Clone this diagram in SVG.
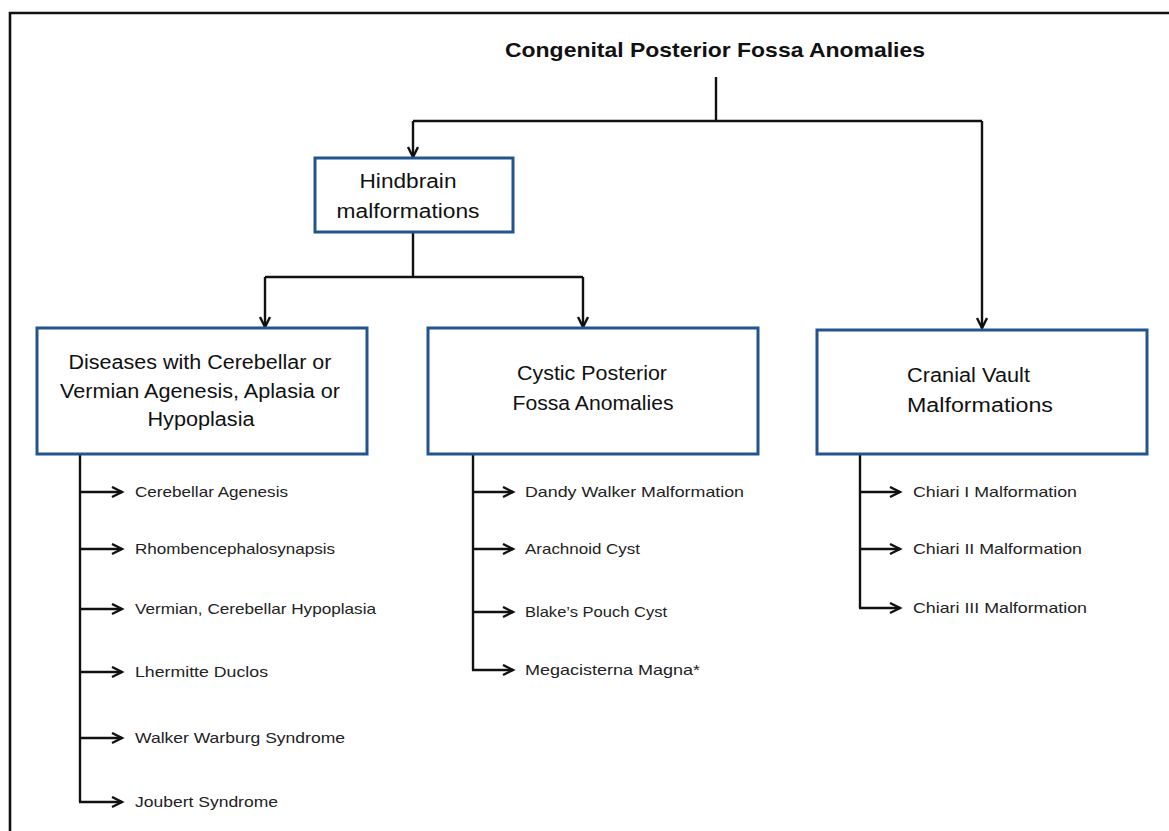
<svg xmlns="http://www.w3.org/2000/svg" width="1169" height="831" viewBox="0 0 1169 831">
<style>
.box{fill:#fff;stroke:#23548f;stroke-width:3}
.bt{font-family:"Liberation Sans",Arial,sans-serif;font-size:20px;fill:#111;text-anchor:middle}
.li{font-family:"Liberation Sans",Arial,sans-serif;font-size:15px;fill:#222}
.ln{fill:none;stroke:#111;stroke-width:2.4}
.ttl{font-family:"Liberation Sans",Arial,sans-serif;font-size:21px;font-weight:bold;fill:#111}
</style>
<defs>
<marker id="ah" markerUnits="userSpaceOnUse" markerWidth="14" markerHeight="14" refX="11" refY="6" orient="auto">
<path d="M1,1 L11,6 L1,11" fill="none" stroke="#111" stroke-width="2.4"/>
</marker>
</defs>
<rect x="0" y="0" width="1169" height="831" fill="#fff"/>
<path d="M10,831 V13 H1169" fill="none" stroke="#111" stroke-width="2.6"/>
<g id="title"><text class="ttl" x="505" y="57" textLength="420" lengthAdjust="spacingAndGlyphs">Congenital Posterior Fossa Anomalies</text></g>
<g id="connectors">
<path class="ln" d="M716,77 V121"/>
<path class="ln" d="M413,121 H982"/>
<path class="ln" d="M413,121 V157" marker-end="url(#ah)"/>
<path class="ln" d="M982,121 V328" marker-end="url(#ah)"/>
<path class="ln" d="M413,232 V277"/>
<path class="ln" d="M265,277 H583"/>
<path class="ln" d="M265,277 V327" marker-end="url(#ah)"/>
<path class="ln" d="M583,277 V327" marker-end="url(#ah)"/>
<path class="ln" d="M80,454 V802"/>
<path class="ln" d="M79,492 H122" marker-end="url(#ah)"/>
<path class="ln" d="M79,549 H122" marker-end="url(#ah)"/>
<path class="ln" d="M79,609 H122" marker-end="url(#ah)"/>
<path class="ln" d="M79,672 H122" marker-end="url(#ah)"/>
<path class="ln" d="M79,738 H122" marker-end="url(#ah)"/>
<path class="ln" d="M79,802 H122" marker-end="url(#ah)"/>
<path class="ln" d="M473,454 V670"/>
<path class="ln" d="M472,492 H513" marker-end="url(#ah)"/>
<path class="ln" d="M472,549 H513" marker-end="url(#ah)"/>
<path class="ln" d="M472,612 H513" marker-end="url(#ah)"/>
<path class="ln" d="M472,670 H513" marker-end="url(#ah)"/>
<path class="ln" d="M860,454 V608"/>
<path class="ln" d="M859,492 H900" marker-end="url(#ah)"/>
<path class="ln" d="M859,549 H900" marker-end="url(#ah)"/>
<path class="ln" d="M859,608 H900" marker-end="url(#ah)"/>
</g>
<g id="hindbrain">
<rect class="box" x="315" y="158" width="198" height="74"/>
<text class="bt" x="408" y="188" textLength="97" lengthAdjust="spacingAndGlyphs">Hindbrain</text>
<text class="bt" x="408" y="218" textLength="143" lengthAdjust="spacingAndGlyphs">malformations</text>
</g>
<g id="diseases">
<rect class="box" x="37" y="328" width="330" height="126"/>
<text class="bt" x="200" y="369" textLength="263" lengthAdjust="spacingAndGlyphs">Diseases with Cerebellar or</text>
<text class="bt" x="200" y="398" textLength="280" lengthAdjust="spacingAndGlyphs">Vermian Agenesis, Aplasia or</text>
<text class="bt" x="201" y="426" textLength="107" lengthAdjust="spacingAndGlyphs">Hypoplasia</text>
</g>
<g id="cystic">
<rect class="box" x="428" y="328" width="330" height="126"/>
<text class="bt" x="592" y="380" textLength="150" lengthAdjust="spacingAndGlyphs">Cystic Posterior</text>
<text class="bt" x="593" y="410" textLength="161" lengthAdjust="spacingAndGlyphs">Fossa Anomalies</text>
</g>
<g id="cranial">
<rect class="box" x="817" y="330" width="330" height="124"/>
<text class="bt" x="907" y="382" style="text-anchor:start" textLength="123" lengthAdjust="spacingAndGlyphs">Cranial Vault</text>
<text class="bt" x="907" y="412" style="text-anchor:start" textLength="146" lengthAdjust="spacingAndGlyphs">Malformations</text>
</g>
<g id="list-diseases">
<text class="li" x="135" y="497" textLength="153" lengthAdjust="spacingAndGlyphs">Cerebellar Agenesis</text>
<text class="li" x="135" y="554" textLength="200" lengthAdjust="spacingAndGlyphs">Rhombencephalosynapsis</text>
<text class="li" x="135" y="614" textLength="241" lengthAdjust="spacingAndGlyphs">Vermian, Cerebellar Hypoplasia</text>
<text class="li" x="135" y="677" textLength="133" lengthAdjust="spacingAndGlyphs">Lhermitte Duclos</text>
<text class="li" x="135" y="743" textLength="210" lengthAdjust="spacingAndGlyphs">Walker Warburg Syndrome</text>
<text class="li" x="135" y="807" textLength="143" lengthAdjust="spacingAndGlyphs">Joubert Syndrome</text>
</g>
<g id="list-cystic">
<text class="li" x="525" y="497" textLength="219" lengthAdjust="spacingAndGlyphs">Dandy Walker Malformation</text>
<text class="li" x="525" y="554" textLength="115" lengthAdjust="spacingAndGlyphs">Arachnoid Cyst</text>
<text class="li" x="525" y="617" textLength="142" lengthAdjust="spacingAndGlyphs">Blake’s Pouch Cyst</text>
<text class="li" x="525" y="675" textLength="175" lengthAdjust="spacingAndGlyphs">Megacisterna Magna*</text>
</g>
<g id="list-cranial">
<text class="li" x="913" y="497" textLength="164" lengthAdjust="spacingAndGlyphs">Chiari I Malformation</text>
<text class="li" x="913" y="554" textLength="169" lengthAdjust="spacingAndGlyphs">Chiari II Malformation</text>
<text class="li" x="913" y="613" textLength="174" lengthAdjust="spacingAndGlyphs">Chiari III Malformation</text>
</g>
</svg>
